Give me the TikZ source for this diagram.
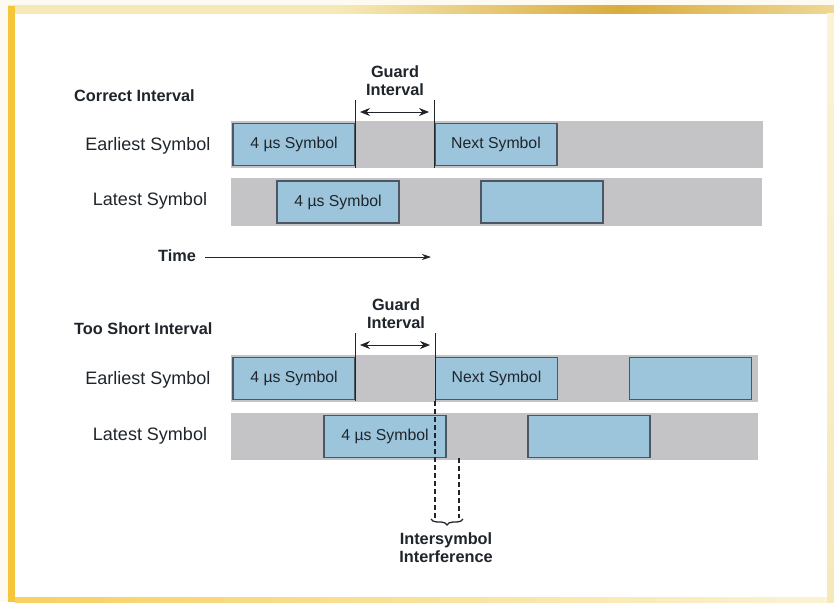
\documentclass[tikz,border=0pt]{standalone}
\usepackage{fontspec}
\setmainfont{Liberation Sans}
\usetikzlibrary{arrows.meta,decorations.pathreplacing}
\definecolor{bargrey}{HTML}{C4C3C5}
\definecolor{symblue}{HTML}{9CC5DB}
\definecolor{symedge}{HTML}{4B5863}
\definecolor{ink}{HTML}{1F252B}
\definecolor{goldA}{HTML}{F5C53A}
\definecolor{goldB}{HTML}{D9AC3C}
\definecolor{paleA}{HTML}{F6E9B8}
\definecolor{paleB}{HTML}{FBF3D6}
\definecolor{outer}{HTML}{FCFAF1}
\pgfdeclarehorizontalshading{goldband}{100bp}{color(0bp)=(goldA); color(25bp)=(paleA); color(45bp)=(paleA); color(62bp)=(goldB); color(80bp)=(paleA); color(100bp)=(paleB)}
\tikzset{
  greybar/.style={fill=bargrey, draw=none, inner sep=0pt},
  symbox/.style={fill=symblue, draw=symedge, line width=1.4pt, minimum width=122pt, minimum height=42pt, inner sep=0pt, text=ink, font=\fontsize{15.8}{18}\selectfont},
  rowlabel/.style={text=ink, font=\fontsize{18}{21}\selectfont, inner sep=0pt},
  boldlabel/.style={text=ink, font=\fontsize{16.3}{19}\selectfont\bfseries, inner sep=0pt},
  guardline/.style={draw=ink, line width=1pt},
  guardarrow/.style={draw=ink, line width=0.9pt, {Stealth[length=10pt,width=8pt]}-{Stealth[length=10pt,width=8pt]}},
  isidash/.style={draw=ink, line width=1.2pt, dash pattern=on 5pt off 3pt}
}
\begin{document}
\begin{tikzpicture}[x=1pt,y=-1pt]
\useasboundingbox (0,0) rectangle (834,602);
% frame
\fill[outer] (0,0) rectangle (834,602);
\fill[white] (15,13) rectangle (827,598);
\shade[shading=goldband] (8,6) rectangle (834,14);
\shade[left color=goldA!80!white, right color=paleB] (15,597) rectangle (834,602);
\shade[top color=paleB, bottom color=paleA] (827,14) rectangle (834,602);
\fill[goldA] (8,6) rectangle (15,602);

% ===== Correct interval =====
\node[boldlabel, anchor=west] (ttl1) at (74,96) {Correct Interval};
\node[boldlabel, align=center] (gtxt1) at (395,81) {Guard\\[-1pt]Interval};

\node[greybar, minimum width=532pt, minimum height=47pt] (g1a) at (497,144.5) {};
\node[greybar, minimum width=531pt, minimum height=48pt] (g1b) at (496.5,202) {};

\node[symbox] (e1) at (294,144.5) {4 µs Symbol};
\node[symbox] (n1) at (496,144.5) {Next Symbol};
\node[symbox] (l1) at (338,202) {4 µs Symbol};
\node[symbox] (l1b) at (542,202) {};

\node[rowlabel] (re1) at (148,146) {Earliest Symbol};
\node[rowlabel] (rl1) at (150,201) {Latest Symbol};

\coordinate (ga1t) at (355,100);
\coordinate (ga1b) at (355,168);
\coordinate (gb1t) at (434,100);
\coordinate (gb1b) at (434,168);
\draw[guardline] (ga1t) -- (ga1b);
\draw[guardline] (gb1t) -- (gb1b);
\coordinate (ar1l) at (360,112);
\coordinate (ar1r) at (429,112);
\draw[guardarrow] (ar1l) -- (ar1r);

\node[boldlabel] (time) at (177,256) {Time};
\coordinate (timeend) at (431,257);
\draw[draw=ink, line width=0.9pt, -{Stealth[length=9pt,width=6pt]}] (205,257) -- (timeend);

% ===== Too short interval =====
\node[boldlabel, anchor=west] (ttl2) at (74,329) {Too Short Interval};
\node[boldlabel, align=center] (gtxt2) at (396,314) {Guard\\[-1pt]Interval};

\node[greybar, minimum width=527pt, minimum height=47pt] (g2a) at (494.5,378.5) {};
\node[greybar, minimum width=527pt, minimum height=47pt] (g2b) at (494.5,436.5) {};

\node[symbox] (e2) at (294,378.5) {4 µs Symbol};
\node[symbox] (n2) at (496.5,378.5) {Next Symbol};
\node[symbox] (t2) at (690.5,378.5) {};
\node[symbox] (l2) at (385,436.5) {4 µs Symbol};
\node[symbox] (l2b) at (589,436.5) {};

\node[rowlabel] (re2) at (148,380) {Earliest Symbol};
\node[rowlabel] (rl2) at (150,436) {Latest Symbol};

\coordinate (ga2t) at (355,333);
\coordinate (ga2b) at (355,401);
\coordinate (gb2t) at (435,333);
\coordinate (gb2b) at (435,401);
\draw[guardline] (ga2t) -- (ga2b);
\draw[guardline] (gb2t) -- (gb2b);
\coordinate (ar2l) at (360,345);
\coordinate (ar2r) at (430,345);
\draw[guardarrow] (ar2l) -- (ar2r);

% intersymbol interference
\coordinate (d1b) at (435,518);
\coordinate (d2t) at (459,458);
\coordinate (d2b) at (459,518);
\draw[isidash] (gb2b) -- (d1b);
\draw[isidash] (d2t) -- (d2b);
\coordinate (brl) at (431,519);
\coordinate (brr) at (463,519);
\draw[draw=ink, line width=1.3pt, decorate, decoration={brace, amplitude=6pt, mirror}] (brl) -- (brr);
\node[boldlabel, align=center] (isi) at (446,548) {Intersymbol\\[-1pt]Interference};
\end{tikzpicture}
\end{document}
